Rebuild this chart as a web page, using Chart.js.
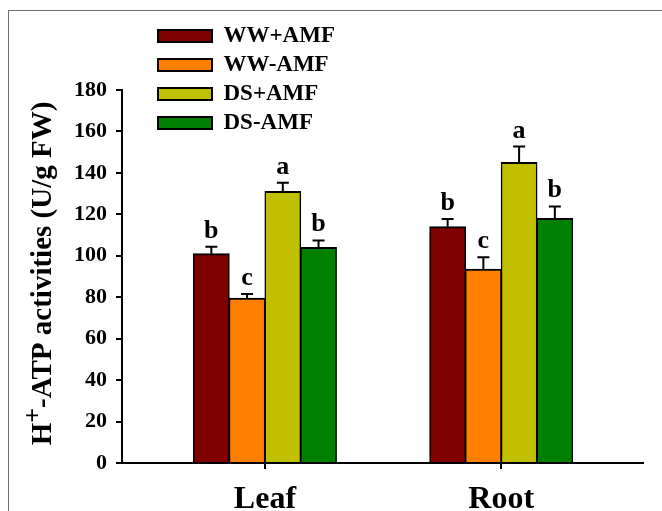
<!DOCTYPE html>
<html>
<head>
<meta charset="utf-8">
<script src="https://cdn.jsdelivr.net/npm/chart.js@4"></script>
<style>
  body { margin: 0; background: #fff; }
  #wrap { position: absolute; left: 0; top: 0; width: 662px; height: 511px; overflow: hidden; }
  #frame { position: absolute; left: 8px; top: 10px; width: 700px; height: 600px; border-left: 1px solid #707070; border-top: 1px solid #707070; }
  canvas { position: absolute; left: 0; top: 0; }
</style>
</head>
<body>
<div id="wrap">
  <div id="frame"></div>
  <canvas id="chart" width="662" height="511"></canvas>
</div>
<script>
"use strict";

const categories = ['Leaf', 'Root'];
const seriesNames = ['WW+AMF', 'WW-AMF', 'DS+AMF', 'DS-AMF'];
const seriesColors = ['#800000', '#FF8000', '#C0C000', '#008000'];

// mean values per tissue
const wwPlusAmf = [101, 114];
const wwMinusAmf = [79.5, 93.5];
const dsPlusAmf = [131, 145];
const dsMinusAmf = [104, 118];

// error bars (upper only)
const wwPlusAmfErr = [3.3, 3.7];
const wwMinusAmfErr = [2, 5.8];
const dsPlusAmfErr = [4.3, 7.7];
const dsMinusAmfErr = [3.4, 5.8];

// significance letters
const wwPlusAmfLetters = ['b', 'b'];
const wwMinusAmfLetters = ['c', 'c'];
const dsPlusAmfLetters = ['a', 'a'];
const dsMinusAmfLetters = ['b', 'b'];

const yTicks = [0, 20, 40, 60, 80, 100, 120, 140, 160, 180];

const serif = '"Liberation Serif", "Times New Roman", serif';
Chart.defaults.font.family = serif;
Chart.defaults.color = '#000';

const values = [wwPlusAmf, wwMinusAmf, dsPlusAmf, dsMinusAmf];
const errors = [wwPlusAmfErr, wwMinusAmfErr, dsPlusAmfErr, dsMinusAmfErr];
const letters = [wwPlusAmfLetters, wwMinusAmfLetters, dsPlusAmfLetters, dsMinusAmfLetters];

const datasets = seriesNames.map((name, i) => ({
    label: name,
    data: categories.map((c, j) => ({x: j + 1, y: values[i][j]})),
    errors: errors[i],
    letters: letters[i],
    backgroundColor: seriesColors[i],
    borderColor: '#000',
    borderWidth: {top: 2, bottom: 0, left: 1.5, right: 1.5},
    borderSkipped: false,
    inflateAmount: 0.5
}));

// error bars + letters on top of each bar
const errorBarPlugin = {
    id: 'errorBars',
    afterDatasetsDraw(chart) {
        const ctx = chart.ctx;
        const yScale = chart.scales.y;
        chart.data.datasets.forEach((ds, i) => {
            const meta = chart.getDatasetMeta(i);
            meta.data.forEach((bar, j) => {
                const top = yScale.getPixelForValue(ds.data[j].y + ds.errors[j]);
                ctx.save();
                ctx.strokeStyle = '#000';
                ctx.lineWidth = 2;
                ctx.beginPath();
                ctx.moveTo(bar.x, bar.y);
                ctx.lineTo(bar.x, top);
                ctx.moveTo(bar.x - 6, top);
                ctx.lineTo(bar.x + 6, top);
                ctx.stroke();
                ctx.fillStyle = '#000';
                ctx.font = 'bold 26px ' + serif;
                ctx.textAlign = 'center';
                ctx.textBaseline = 'alphabetic';
                ctx.fillText(ds.letters[j], bar.x, top - 9);
                ctx.restore();
            });
        });
    }
};

// y title with a raised "+"
const yTitlePlugin = {
    id: 'yTitle',
    afterDraw(chart) {
        const ctx = chart.ctx;
        const area = chart.chartArea;
        const big = 'bold 29px ' + serif;
        const sup = 'bold 26px ' + serif;
        const rest = '-ATP activities (U/g FW)';
        ctx.save();
        ctx.translate(51, (area.top + area.bottom) / 2 - 3);
        ctx.rotate(-Math.PI / 2);
        ctx.fillStyle = '#000';
        ctx.textBaseline = 'alphabetic';
        ctx.font = big;
        const wH = ctx.measureText('H').width;
        const wRest = ctx.measureText(rest).width;
        ctx.font = sup;
        const wPlus = ctx.measureText('+').width;
        let x = -(wH + wPlus + wRest) / 2;
        ctx.font = big;
        ctx.fillText('H', x, 0);
        x += wH;
        ctx.font = sup;
        ctx.fillText('+', x, -10);
        x += wPlus;
        ctx.font = big;
        ctx.fillText(rest, x, 0);
        ctx.restore();
    }
};

// move the legend to the top-left corner
const legendPlacer = {
    id: 'legendPlacer',
    afterLayout(chart) {
        const lg = chart.legend;
        const w = lg.width, h = lg.height;
        lg.left = 152;
        lg.top = 18.5;
        lg.right = lg.left + w;
        lg.bottom = lg.top + h;
    }
};

new Chart(document.getElementById('chart'), {
    type: 'bar',
    data: {datasets: datasets},
    plugins: [legendPlacer, errorBarPlugin, yTitlePlugin],
    options: {
        responsive: false,
        animation: false,
        devicePixelRatio: 1,
        datasets: {
            bar: {categoryPercentage: 0.605, barPercentage: 1}
        },
        layout: {padding: {left: 0, top: 90, right: 19, bottom: 0}},
        plugins: {
            tooltip: {enabled: false},
            legend: {
                position: 'chartArea',
                align: 'start',
                labels: {
                    boxWidth: 54,
                    boxHeight: 12,
                    padding: 6,
                    color: '#000',
                    font: {size: 23, weight: 'bold'},
                    generateLabels(chart) {
                        return chart.data.datasets.map((ds, i) => ({
                            text: ds.label,
                            fillStyle: ds.backgroundColor,
                            strokeStyle: '#000',
                            lineWidth: 2,
                            fontColor: '#000',
                            hidden: false,
                            datasetIndex: i
                        }));
                    }
                }
            }
        },
        scales: {
            x: {
                type: 'linear',
                min: 0.395,
                max: 2.6,
                offset: false,
                afterBuildTicks(scale) {
                    scale.ticks = categories.map((c, i) => ({value: i + 1}));
                },
                afterFit(scale) { scale.height = 48; },
                ticks: {
                    callback: (v) => categories[v - 1],
                    font: {size: 32, weight: 'bold'},
                    color: '#000',
                    padding: 12,
                    autoSkip: false,
                    maxRotation: 0
                },
                grid: {drawOnChartArea: false, offset: false, tickLength: 6, lineWidth: 2, color: '#000'},
                border: {color: '#000', width: 2}
            },
            y: {
                min: 0,
                max: 180,
                afterBuildTicks(scale) {
                    scale.ticks = yTicks.map(v => ({value: v}));
                },
                afterFit(scale) { scale.width = 122; },
                ticks: {font: {size: 22, weight: 'bold'}, color: '#000', padding: 9},
                grid: {drawOnChartArea: false, tickLength: 6, lineWidth: 2, color: '#000'},
                border: {color: '#000', width: 2}
            }
        }
    }
});
</script>
</body>
</html>
